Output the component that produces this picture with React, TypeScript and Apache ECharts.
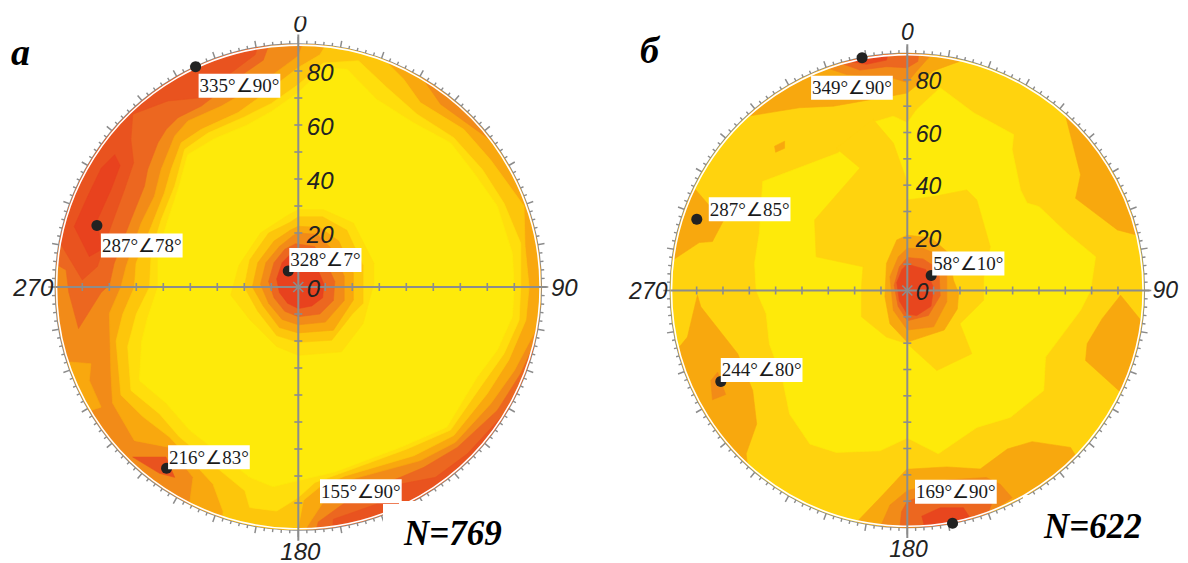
import React, { useEffect, useRef } from "react";
import * as echarts from "echarts";

// Contour vertices are [east, north] in dip degrees of the stereonet; values beyond 90 are cut by the disc.
const COLORS_A = ["#FEEA0A", "#FFDE0C", "#FDC60B", "#F9A80E", "#F28B18", "#EC6720", "#E8421E", "#E9531F"];
const COLORS_B = ["#FEEA0A", "#FFD30E", "#FDC60B", "#F8A80E", "#F28B18", "#EC6720", "#E8461E", "#E9531F"];

const SQUARE = [[-100, 100], [100, 100], [100, -100], [-100, -100]];

const A_L3 = [[0,85.6],[4,96],[50,96],[96,50],[100,0],[96,-9.8],[89.2,-9.8],[87.4,-17],[80,-31],[71.3,-43.2],[58.2,-57.5],[45.2,-64.3],[18,-71.7],[11.2,-76.7],[3.1,-89],[3,-96],[-42,-96],[-40.3,-80.4],[-39,-70.5],[-47.7,-59.4],[-60.7,-56.9],[-68.8,-43],[-69.4,-32],[-70,-9.8],[-65.7,0],[-63.8,7.6],[-58.2,23.7],[-53.3,33.6],[-50.8,43.5],[-45.8,55.9],[-40.9,61.5],[-28.5,67],[-13,76]];
const A_L2 = [[0,81.3],[8,86],[14,96],[32,96],[30.4,85.6],[39,77],[45.2,68.3],[61.3,58.4],[71.3,47],[83.6,30],[84,15],[85.5,0],[84.3,-12.3],[78,-27],[70,-39.5],[57.6,-55],[42.8,-62.5],[17.3,-70],[8,-74],[1.9,-79],[0,-89],[0,-96],[-28,-96],[-27.9,-83],[-31.6,-73],[-47.7,-55.6],[-57.6,-48],[-65.7,-40],[-67.5,-20],[-65,-10],[-60.7,0],[-60.1,8.8],[-54.5,22.4],[-49.6,34.8],[-47.1,43.5],[-43.4,53.4],[-35.9,58.4],[-22.3,64.6],[-12,72]];
const A_L1 = [[0,75],[9.3,83],[22.3,83.8],[32.8,73.9],[44,64],[57.6,55.3],[68.2,43.5],[76.2,31],[82.4,16.2],[82.4,0],[81.8,-12.3],[76.2,-24.7],[67.5,-37],[56.4,-53],[40.3,-60],[14.9,-69.3],[6.2,-72.4],[0,-78],[-8,-83],[-18,-81.7],[-19.8,-75.5],[-44,-55.6],[-51.4,-47],[-62,-38.3],[-63.2,-22],[-60,-10],[-55.1,0],[-54.5,12.5],[-50.8,24.9],[-45.8,37.3],[-42.1,51],[-33.5,57],[-20,63],[-10,68]];
const A_L0 = [[0,72],[9.3,81],[18,80.7],[29,69.5],[42.7,60.8],[56.4,53.4],[65,42.3],[73.7,30],[79.3,12.5],[80,0],[79.3,-11],[73.7,-23.4],[66.3,-33.3],[55,-51.9],[37.8,-59.4],[13,-68.7],[0,-71.7],[-9.3,-74],[-18,-70.5],[-40.3,-53],[-49,-43],[-58.9,-34.6],[-58,-20],[-56,-12],[-52,0],[-52,12.5],[-48.3,24.9],[-45.8,32.3],[-44,38],[-41,49],[-31,55],[-19,60],[-10,65]];
const A_WEDGE_NE = [[44.6,79.4],[50,88],[80,60],[72.5,53.4],[61.3,61.5],[52.7,67.7]];
const A_PATCH_SW = [[-84.3,-27.8],[-76.8,-28.4],[-77.4,-34.6],[-73,-44.5],[-78.7,-46.3],[-88,-50],[-96,-30]];
const A_L5_NW = [[-10,92],[-13,84],[-21.7,78],[-35.9,67],[-44.6,62.7],[-48.9,58.4],[-52,53.4],[-55.8,43.5],[-57,37.3],[-62,24.9],[-68.2,8.8],[-70,0.7],[-73,-2],[-81.4,-15.4],[-85,-2],[-86,6.3],[-89,8],[-100,12],[-70,80],[-30,92]];
const A_D2_NW = [[-14,92],[-16,86],[-24,80],[-37,70],[-48.3,68.9],[-61.3,64],[-62,54.6],[-61,46],[-64.4,36],[-69.4,22.4],[-74.4,7.6],[-80,2.6],[-88.6,16.9],[-100,20],[-70,80],[-30,92]];
const A_L6_W = [[-77.4,11.3],[-83,22.4],[-78,33.6],[-73,44],[-68,49],[-66,45],[-69.4,36],[-74.4,24.9],[-73,13.8]];
const A_L6_SW = [[-61.3,-63],[-49,-63],[-45.8,-70.5],[-51.4,-69]];
const A_L5_SE = [[89.2,-17.2],[82.4,-32],[73.7,-45.7],[58.9,-59.4],[46.5,-66.8],[37.8,-70.5],[21.7,-76.7],[7.4,-87],[5,-96],[60,-96],[100,-30]];
const A_L6_SE = [[88.6,-18.5],[83.6,-33.3],[76.2,-47],[62.6,-61.8],[50.8,-70.5],[37.8,-73],[29,-80.4],[13,-86],[12,-96],[60,-96],[100,-30],[95,-18.5]];
const A_C1 = [[0,28.6],[9.3,28.6],[20.4,23.7],[28,8.8],[28,1.4],[24,-13.5],[16,-24],[0,-25.3],[-8,-22],[-18,-12],[-25,-3],[-22,8],[-14,20],[-4,26.5]];
const A_C2 = [[0,26],[9,26],[18,21],[24,8],[24,-6],[20,-10],[12.4,-19.7],[0,-20.5],[-8,-18],[-15,-9],[-20,0],[-18,10],[-11,20],[-3,24]];
const A_C3 = [[0,22.5],[8,22],[15,17],[20.4,5],[20.4,-4.8],[13,-16],[0,-17],[-7,-15],[-13,-7],[-17,0],[-15,9],[-9,17],[-3,21]];
const A_C4 = [[0,20],[7,19.5],[12.5,14],[17,4],[17,-5],[10,-13],[0,-14],[-6,-12],[-11,-6],[-14,1],[-12,9],[-7,15],[-2,19]];
const A_C5 = [[-1,16],[6,15],[10,10],[13.5,2],[13,-5],[8,-10],[0,-11],[-5,-9],[-9,-4],[-11,2],[-9,9],[-5,14]];
const A_C6 = [[-1,13],[4,12],[7,7],[9.5,1],[9,-4],[5,-7],[0,-8],[-4,-6],[-7,-2],[-8,3],[-6,9],[-3,12]];

const B_L0 = [[12.5,77],[25.2,67.5],[40.4,59.2],[39.8,53.5],[43,38.2],[45.5,33.2],[50,31.9],[60.7,21.7],[71.5,12.8],[69.6,0],[65.8,-7.5],[52.5,-25.3],[51.8,-38],[39.1,-48.2],[26.4,-52],[11.8,-62],[0,-56],[-10.4,-60.9],[-27,-61.5],[-37,-58.3],[-44.7,-46.9],[-47.3,-34.2],[-52.4,-20.2],[-53.6,-8.8],[-57.4,0],[-58,10.3],[-56.2,21.7],[-54.9,41.4],[-26.3,52.2],[-13.6,63.7],[-5.3,66.2],[0,63.7],[3.6,68.7]];
const B_ISLAND = [[-13,65],[-5.3,56],[-0.3,42],[0,34.4],[9.9,35.7],[22.6,38.2],[26.4,34.4],[31.5,16.6],[29,5.2],[29,-3.7],[20,-12.6],[24.5,-24],[11.2,-30.4],[0,-20.2],[-7.9,-17.7],[-17.4,-10],[-17.4,1.4],[-16.8,9],[-34.6,12.8],[-35.2,26.8],[-18,46.5],[-27,54]];
const B_TOP = [[-60.6,66.2],[-41,69.4],[-28,70],[-6.6,73.8],[0,75],[4.8,79],[9.9,83.4],[19.8,87],[20,96],[-65,85]];
const B_WEST = [[-80.3,38.2],[-70,26.2],[-74,18.6],[-79,18.2],[-89,11.6],[-100,20],[-90,40]];
const B_NE = [[60,66.8],[65.8,44],[63.9,35],[79.8,23],[87.4,21],[100,30],[80,70]];
const B_DIAMOND = [[-50.4,54.8],[-46.6,56.7],[-46.6,54],[-50,52.5]];
const B_SW = [[-79.7,-1.8],[-78.4,-6.2],[-64.4,-24],[-58.7,-38],[-57.2,-50.7],[-61.2,-62],[-60.6,-67],[-68,-75],[-96,-30],[-86.6,-21.5],[-83.5,-17.7]];
const B_SW_L4 = [[-74.6,-34.2],[-72,-31],[-69,-39.5],[-74,-41.5]];
const B_E = [[81,-1.8],[88.7,-11.3],[100,-20],[90,-45],[81,-38.6],[67.7,-26.6],[68.3,-20.2],[74,-10.7]];
const B_S_L3 = [[-19.3,-88],[-9.1,-77.4],[-0.3,-67.9],[15,-67],[27.7,-67.8],[38,-60.2],[47.4,-57.4],[62,-59.6],[66,-66],[40,-96],[-20,-96]];
const B_S_L4 = [[-9.8,-88.8],[-6.6,-81.5],[0,-76],[15,-72],[30,-71],[35.3,-73.6],[39.8,-78.7],[32,-84],[30,-96],[-10,-96]];
const B_S_L5 = [[-3,-92],[-2.2,-84],[0,-80],[6,-78],[28,-78],[32,-81],[28,-92]];
const B_S_L6 = [[5.5,-85.7],[12.5,-82.5],[21.3,-82.5],[23.8,-86.3],[24,-95],[8,-95]];
const B_N_L4 = [[-32,85],[-23,82],[-6.6,81],[0,79],[3.6,83.4],[8.6,89],[9,96],[-34,96]];
const B_N_L5 = [[-24.4,86],[-18,83.7],[-7.9,85],[0,84.6],[4,87],[5,96],[-26,96]];
const B_N_L6 = [[-21.9,87],[-15.5,85.9],[-7.9,87.5],[-6,95],[-23,95]];
const B_C3 = [[0,21],[9,20],[16,14],[17.5,4],[19.5,-1],[19,-7],[14,-15],[0,-19.6],[-6.6,-12.6],[-8.5,-2.4],[-7.9,10.3],[-4,19.2]];
const B_C4 = [[0,16],[6,16],[13,13],[15,6],[15,-4.3],[10,-13.8],[0,-15],[-5.3,-7.5],[-6.6,5.2],[-3.4,12.8]];
const B_C5 = [[0,12.5],[6,12],[12,8],[12.5,-2],[8,-9.5],[0,-11.5],[-3.5,-6],[-5,2],[-3,9]];
const B_C6 = [[0,10],[7,8],[10,1],[9,-6],[3.6,-9.5],[0,-9],[-3,-4],[-4,3],[-2,8]];

const A_BANDS = [[SQUARE,4],[A_L3,3],[A_L2,2],[A_L1,1],[A_L0,0],[A_WEDGE_NE,4],[A_PATCH_SW,3],[A_L5_NW,5],[A_D2_NW,7],[A_L6_W,6],[A_L6_SW,7],[A_L5_SE,5],[A_L6_SE,7],[A_C1,1],[A_C2,2],[A_C3,3],[A_C4,4],[A_C5,5],[A_C6,6]];
const B_BANDS = [[SQUARE,1],[B_L0,0],[B_ISLAND,1],[B_TOP,3],[B_WEST,3],[B_NE,3],[B_DIAMOND,3],[B_SW,3],[B_SW_L4,4],[B_E,3],[B_S_L3,3],[B_S_L4,4],[B_S_L5,5],[B_S_L6,6],[B_N_L4,4],[B_N_L5,5],[B_N_L6,6],[B_C3,3],[B_C4,4],[B_C5,5],[B_C6,6]];

const A_TEXTS = ["335°∠90°", "287°∠78°", "328°∠7°", "216°∠83°", "155°∠90°"];
const A_DIP = [90, 78, 7, 83, 90];
const A_AZ = [335, 287, 328, 216, 155];
const A_DOT = [true, true, true, true, false];
const A_LABEL_OFFSET = [[3, 19], [4, 20], [1, -11], [1.5, -11], [-81, -16]];

const B_TEXTS = ["349°∠90°", "287°∠85°", "58°∠10°", "244°∠80°", "169°∠90°"];
const B_DIP = [90, 84.4, 10.7, 78.8, 90];
const B_AZ = [349, 288.7, 58, 244, 169];
const B_DOT = [true, true, true, true, true];
const B_LABEL_OFFSET = [[-51, 30], [12, -10], [1, -12], [0, -11.5], [-37.5, -31.5]];

const DIP_TICKS = [10, 20, 30, 40, 50, 60, 70, 80];
const DIP_LABELS = [0, 20, 40, 60, 80];
const AZ_LABELS = [0, 90, 180, 270];
const A_AZ_OFFSET = [[1.7, -21], [23, 0.5], [2, 21], [-22, 0]];
const B_AZ_OFFSET = [[0.2, -21.5], [21, -0.5], [1.2, 21.5], [-22, 0]];

const GREY = "#8C8C8C";
const INK = "#222222";
const AXIS_FONT = (s: number) => `italic ${s}px "Liberation Sans", Arial, sans-serif`;
const LABEL_FONT = `19px "Liberation Serif", "Times New Roman", serif`;

function buildSeries(index: number, bands: any[], colors: string[], texts: string[], dips: number[], azs: number[], dots: boolean[], labelOff: number[][], azOff: number[][], fontSize: number) {
  const contourSeries = {
    type: "custom", coordinateSystem: "polar", polarIndex: index, clip: true, z: 1, silent: true,
    data: bands.map(() => [0, 0]),
    renderItem: (params: any, api: any) => {
      const [pts, level] = bands[params.dataIndex];
      const points = pts.map(([e, n]: number[]) => {
        const c = api.coord([Math.hypot(e, n), ((Math.atan2(e, n) * 180) / Math.PI + 360) % 360]);
        return [c[0], c[1]];
      });
      const color = colors[level];
      return { type: "polygon", shape: { points }, style: { fill: color, stroke: color, lineWidth: 0.6 } };
    },
  };
  const overlaySeries = {
    type: "custom", coordinateSystem: "polar", polarIndex: index, clip: false, z: 3, silent: true,
    data: [[0, 0]],
    renderItem: (_p: any, api: any) => {
      const pt = (d: number, a: number) => { const c = api.coord([d, a]); return [c[0], c[1]]; };
      const o = pt(0, 0);
      const rim = pt(90, 0);
      const R = o[1] - rim[1];
      const line = (x1: number, y1: number, x2: number, y2: number, w = 2) => ({
        type: "line", shape: { x1, y1, x2, y2 }, style: { stroke: GREY, lineWidth: w },
      });
      const children: any[] = [
        { type: "circle", shape: { cx: o[0], cy: o[1], r: R - 1.2 }, style: { fill: "none", stroke: "#FFFFFF", lineWidth: 1.6 } },
      ];
      const n = pt(93.5, 0), s = pt(94, 180), e = pt(92, 90), w = pt(90, 270);
      children.push(line(n[0], n[1], s[0], s[1]), line(w[0], w[1], e[0], e[1]));
      DIP_TICKS.forEach((d) => {
        [0, 180].forEach((a) => { const p = pt(d, a); children.push(line(p[0] - 4, p[1], p[0] + 4, p[1], 1.6)); });
        [90, 270].forEach((a) => { const p = pt(d, a); children.push(line(p[0], p[1] - 4, p[0], p[1] + 4, 1.6)); });
      });
      children.push(line(o[0] - 5, o[1] - 5, o[0] + 5, o[1] + 5, 1.6), line(o[0] - 5, o[1] + 5, o[0] + 5, o[1] - 5, 1.6));
      DIP_LABELS.forEach((d) => {
        const p = pt(d, 0);
        children.push({ type: "text", x: p[0] + 8.5, y: p[1] + 1, style: { text: String(d), font: AXIS_FONT(fontSize), fill: INK, align: "left", verticalAlign: "middle" } });
      });
      AZ_LABELS.forEach((a, i) => {
        const p = pt(90, a);
        children.push({ type: "text", x: p[0] + azOff[i][0], y: p[1] + azOff[i][1], style: { text: String(a), font: AXIS_FONT(fontSize), fill: INK, align: "center", verticalAlign: "middle" } });
      });
      return { type: "group", children };
    },
  };
  const dotSeries = {
    type: "scatter", coordinateSystem: "polar", polarIndex: index, z: 4, silent: true,
    symbolSize: 11, itemStyle: { color: INK, opacity: 1 },
    data: dips.map((d, i) => [d, azs[i]]).filter((_, i) => dots[i]),
  };
  const labelSeries = {
    type: "custom", coordinateSystem: "polar", polarIndex: index, clip: false, z: 5, silent: true,
    data: dips.map((d, i) => [d, azs[i]]),
    renderItem: (params: any, api: any) => {
      const i = params.dataIndex;
      const c = api.coord([dips[i], azs[i]]);
      return {
        type: "text", x: c[0] + labelOff[i][0], y: c[1] + labelOff[i][1],
        style: { text: texts[i], font: LABEL_FONT, fill: "#1a1a1a", align: "left", verticalAlign: "middle", backgroundColor: "#FFFFFF", lineHeight: 24, padding: [0, 1] },
      };
    },
  };
  return [contourSeries, overlaySeries, dotSeries, labelSeries];
}

const angleAxis = (polarIndex: number) => ({
  polarIndex, type: "value", min: 0, max: 360, interval: 10, startAngle: 90, clockwise: true,
  axisLine: { show: true, lineStyle: { color: GREY, width: 1.6 } },
  axisTick: { show: true, length: 7, lineStyle: { color: GREY, width: 1.5 } },
  minorTick: { show: true, splitNumber: 5, length: 3.5, lineStyle: { color: GREY, width: 1.4 } },
  axisLabel: { show: false }, splitLine: { show: false }, minorSplitLine: { show: false },
});
const radiusAxis = (polarIndex: number) => ({
  polarIndex, type: "value", min: 0, max: 90, show: false,
  axisLine: { show: false }, axisTick: { show: false }, axisLabel: { show: false }, splitLine: { show: false },
});

const whiteRect = (x: number, y: number, width: number, height: number) => ({
  type: "rect", z: 10, silent: true, shape: { x, y, width, height }, style: { fill: "#FFFFFF" },
});
const heading = (text: string, x: number, y: number, size: number) => ({
  type: "text", z: 11, silent: true, x, y,
  style: { text, font: `italic bold ${size}px "Liberation Serif", "Times New Roman", serif`, fill: "#000000", align: "left", verticalAlign: "middle" },
});

export default function App() {
  const ref = useRef<HTMLDivElement>(null);
  useEffect(() => {
    const chart = echarts.init(ref.current!, undefined, { renderer: "svg" });
    chart.setOption({
      animation: false,
      backgroundColor: "#FFFFFF",
      polar: [
        { center: [298.3, 287], radius: 243 },
        { center: [907.3, 290.5], radius: 237 },
      ],
      angleAxis: [angleAxis(0), angleAxis(1)],
      radiusAxis: [radiusAxis(0), radiusAxis(1)],
      series: [
        ...buildSeries(0, A_BANDS, COLORS_A, A_TEXTS, A_DIP, A_AZ, A_DOT, A_LABEL_OFFSET, A_AZ_OFFSET, 24),
        ...buildSeries(1, B_BANDS, COLORS_B, B_TEXTS, B_DIP, B_AZ, B_DOT, B_LABEL_OFFSET, B_AZ_OFFSET, 23),
      ],
      graphic: [
        whiteRect(383, 504, 40, 24),
        whiteRect(399, 501, 30, 10),
        whiteRect(285, 0, 30, 16.5),
        whiteRect(1023, 495, 40, 30),
        heading("а", 11, 52, 38),
        heading("б", 640, 50, 38),
        heading("N=769", 404, 533, 35),
        heading("N=622", 1044, 526, 35),
      ],
    });
    return () => chart.dispose();
  }, []);
  return <div ref={ref} style={{ position: "absolute", left: 0, top: 0, width: 1188, height: 563 }} />;
}
